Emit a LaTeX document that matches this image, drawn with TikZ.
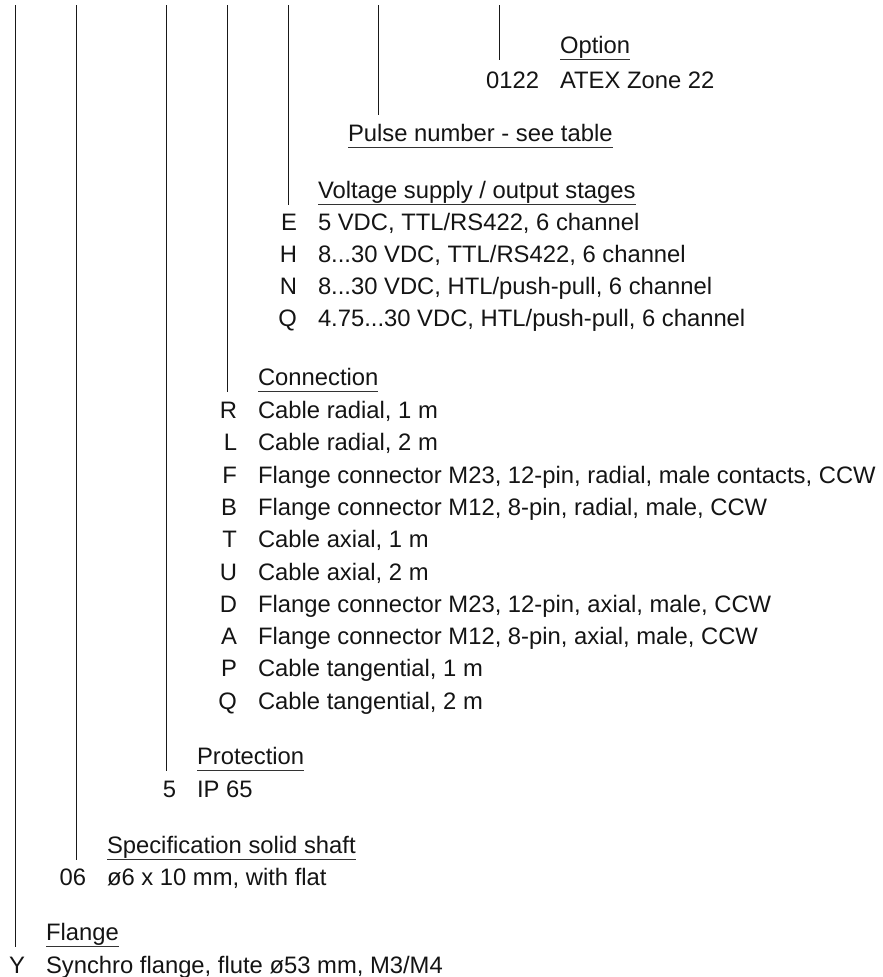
\documentclass[tikz,border=0pt]{standalone}
\usepackage{fontspec}
\setmainfont{Liberation Sans}
\usetikzlibrary{calc}
\begin{document}
\begin{tikzpicture}[x=1pt,y=-1pt,
  every node/.style={inner sep=0pt, outer sep=0pt, font=\fontsize{23.8}{28}\selectfont, text=black!92},
  item/.style={anchor=base west},
  code/.style={anchor=base east},
  hdr/.style={anchor=base west},
  uline/.style={line width=1.3pt, black!80},
  lead/.style={line width=1pt, black!90}]
\useasboundingbox (0,0) rectangle (883,977);

% ---------- Option ----------
\node[hdr] (hOpt) at (560,53.5) {Option};
\node[item] (opt1) at (560,88.5) {ATEX Zone 22};
\node[code] (cOpt1) at (539,88.5) {0122};

% ---------- Pulse number ----------
\node[hdr] (hPul) at (348,141.5) {Pulse number - see table};

% ---------- Voltage ----------
\node[hdr] (hVol) at (318,198.5) {Voltage supply / output stages};
\node[item] (v1) at (318,230.5) {5 VDC, TTL/RS422, 6 channel};
\node[item] (v2) at (318,262.5) {8...30 VDC, TTL/RS422, 6 channel};
\node[item] (v3) at (318,294.5) {8...30 VDC, HTL/push-pull, 6 channel};
\node[item] (v4) at (318,326.5) {4.75...30 VDC, HTL/push-pull, 6 channel};
\node[code] (cv1) at (297,230.5) {E};
\node[code] (cv2) at (297,262.5) {H};
\node[code] (cv3) at (297,294.5) {N};
\node[code] (cv4) at (297,326.5) {Q};

% ---------- Connection ----------
\node[hdr] (hCon) at (258,385.5) {Connection};
\foreach \c/\t [count=\i from 0] in {R/{Cable radial, 1 m},
  L/{Cable radial, 2 m},
  F/{Flange connector M23, 12-pin, radial, male contacts, CCW},
  B/{Flange connector M12, 8-pin, radial, male, CCW},
  T/{Cable axial, 1 m},
  U/{Cable axial, 2 m},
  D/{Flange connector M23, 12-pin, axial, male, CCW},
  A/{Flange connector M12, 8-pin, axial, male, CCW},
  P/{Cable tangential, 1 m},
  Q/{Cable tangential, 2 m}}{
  \node[item] (con\i) at (258,418.5+32.3*\i) {\t};
  \node[code] (ccon\i) at (237,418.5+32.3*\i) {\c};
}

% ---------- Protection ----------
\node[hdr] (hPro) at (197,764.5) {Protection};
\node[item] (pro1) at (197,797.5) {IP 65};
\node[code] (cpro1) at (176,797.5) {5};

% ---------- Specification ----------
\node[hdr] (hSpe) at (107,853.5) {Specification solid shaft};
\node[item] (spe1) at (107,885.5) {ø6 x 10 mm, with flat};
\node[code] (cspe1) at (86,885.5) {06};

% ---------- Flange ----------
\node[hdr] (hFla) at (46,940.5) {Flange};
\node[item] (fla1) at (46,973.5) {Synchro flange, flute ø53 mm, M3/M4};
\node[code] (cfla1) at (25,973.5) {Y};

% ---------- underlines ----------
\foreach \h in {hOpt,hPul,hVol,hCon,hPro,hSpe,hFla}{
  \draw[uline] ($(\h.base west)+(0,6)$) -- ($(\h.base east)+(0,6)$);
}

% ---------- leader lines ----------
\coordinate (tFla) at (15,5);
\coordinate (tSpe) at (76,5);
\coordinate (tPro) at (166.5,5);
\coordinate (tCon) at (227,5);
\coordinate (tVol) at (288,5);
\coordinate (tPul) at (378.5,5);
\coordinate (tOpt) at (499.5,5);
\coordinate (ePul) at (378.5,115);

\draw[lead] (tFla) -- (tFla |- {$(hFla.base west)+(0,6)$});
\draw[lead] (tSpe) -- (tSpe |- {$(hSpe.base west)+(0,6)$});
\draw[lead] (tPro) -- (tPro |- {$(hPro.base west)+(0,6)$});
\draw[lead] (tCon) -- (tCon |- {$(hCon.base west)+(0,6)$});
\draw[lead] (tVol) -- (tVol |- {$(hVol.base west)+(0,6)$});
\draw[lead] (tPul) -- (ePul);
\draw[lead] (tOpt) -- (tOpt |- {$(hOpt.base west)+(0,6)$});
\end{tikzpicture}
\end{document}
